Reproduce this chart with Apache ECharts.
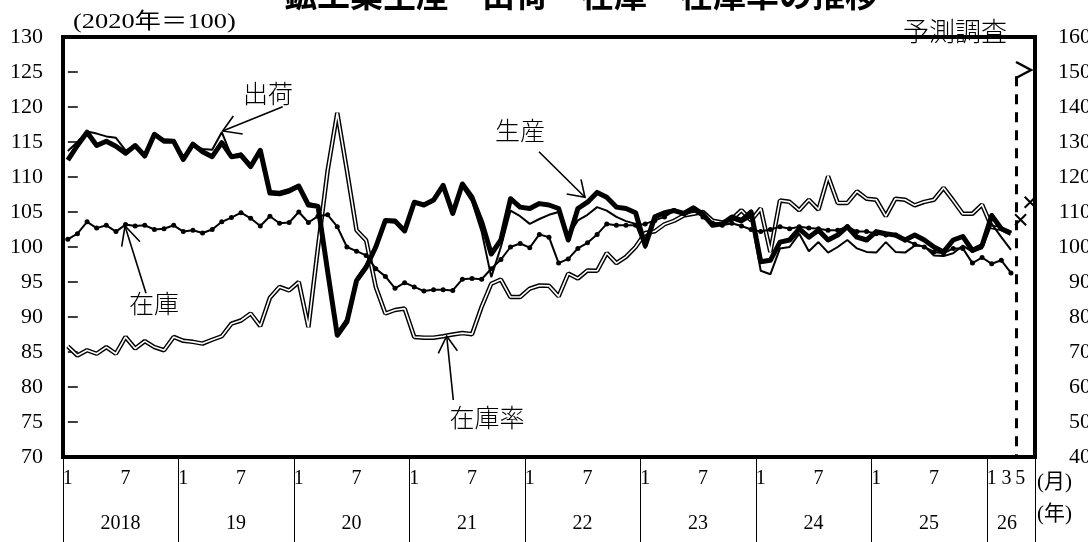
<!DOCTYPE html>
<html><head><meta charset="utf-8">
<script src="https://cdn.jsdelivr.net/npm/echarts@6/dist/echarts.min.js"></script>
<style>html,body{margin:0;padding:0;background:#fff}#c{width:1088px;height:542px}</style>
</head><body><div id="c"></div>
<script>
// ---- data ----
const yearsList = [2018, 2019, 2020, 2021, 2022, 2023, 2024, 2025, 2026];
const lastMonth2026 = 5;
const yearTickLabels = ['2018', '19', '20', '21', '22', '23', '24', '25', '26'];
const leftTicks = [70, 130, 5];
const rightTicks = [40, 160, 10];

// 生産 (production), 2018/1 - 2026/3
const production = [
  112.4,114.5,116.4,114.5,115.1,114.4,113.4,114.5,113.0,116.1,115.1,115.1,
  112.5,114.7,113.6,112.9,114.9,112.9,113.1,111.5,113.8,107.7,107.6,108.0,
  108.7,106.0,105.8,96.5,87.4,89.3,95.2,97.1,100.0,103.8,103.7,102.3,
  106.4,106.0,106.7,108.8,104.8,109.0,107.1,103.6,99.0,101.0,106.9,105.7,
  105.5,106.2,106.0,105.5,101.0,105.5,106.4,107.8,107.1,105.7,105.5,104.9,
  100.2,104.3,104.9,105.2,104.8,105.6,104.7,103.1,103.3,104.3,103.8,105.0,
  97.9,98.1,100.7,101.0,102.6,101.4,102.4,101.0,101.7,102.9,101.4,101.0,
  102.2,101.9,101.7,101.0,101.7,101.0,100.0,99.3,101.0,101.5,99.5,100.2,
  104.5,102.6,102.0
];
// 出荷 (shipments)
const shipments = [
  113.7,115.0,116.5,116.2,115.8,115.6,113.8,114.3,113.2,116.0,115.4,115.3,
  112.6,114.5,114.0,113.9,116.4,113.0,113.4,111.8,113.6,108.0,107.9,108.3,
  108.9,106.3,106.0,97.0,87.8,89.8,95.5,97.5,100.3,103.6,103.5,102.6,
  106.2,105.9,106.5,108.5,105.0,108.6,106.5,102.2,95.7,100.0,105.2,104.4,
  103.3,104.0,104.6,105.0,101.6,103.8,104.6,105.7,105.2,104.3,103.7,103.3,
  99.8,104.5,105.0,105.4,104.5,105.2,104.3,103.2,103.3,104.0,103.5,104.3,
  96.6,96.1,99.8,100.0,101.9,99.4,100.7,99.2,100.0,101.0,99.8,99.3,
  99.2,100.7,99.3,99.2,100.2,100.1,98.8,98.7,99.1,100.2,99.3,99.8,
  103.3,101.4,99.6
];
// 在庫 (inventory)
const inventory = [
  101.1,101.9,103.6,102.7,103.1,102.2,103.2,103.0,103.1,102.5,102.6,103.1,
  102.2,102.4,102.0,102.5,103.6,104.2,104.9,104.1,103.0,104.4,103.4,103.5,
  105.0,103.5,104.4,104.6,102.9,100.0,99.4,98.8,96.9,95.8,94.1,94.9,
  94.3,93.7,93.9,93.9,93.8,95.4,95.5,95.4,96.9,98.2,100.0,100.5,
  99.9,101.8,101.4,97.7,98.3,99.8,100.6,101.8,103.3,103.1,103.1,103.1,
  103.3,103.8,104.3,105.2,104.8,105.5,104.3,103.4,103.1,103.4,103.0,102.5,
  102.2,102.5,102.9,102.6,102.9,102.7,102.6,102.4,102.4,102.9,102.2,102.2,
  101.9,101.7,101.7,101.0,100.4,100.0,99.3,99.1,99.8,99.8,97.7,98.5,
  97.6,98.1,96.3
];
// 在庫率 (inventory ratio, right axis)
const inventoryRatio = [
  71.6,69.0,70.5,69.5,71.4,69.5,74.3,71.0,73.1,71.4,70.5,74.3,
  73.2,72.9,72.4,73.5,74.5,78.1,79.0,81.0,77.4,85.5,88.6,87.6,
  90.0,77.1,100.0,121.9,138.3,121.9,104.8,101.9,88.6,81.0,82.0,82.4,
  74.3,74.1,74.1,74.5,75.0,75.4,75.1,82.9,89.5,90.7,85.7,85.7,
  88.1,89.0,88.9,85.9,92.4,91.0,93.3,93.2,98.3,95.4,97.2,100.0,
  104.0,104.5,106.5,107.5,109.0,109.5,110.0,107.5,107.0,108.0,110.5,107.6,
  111.0,98.6,113.3,112.9,110.5,113.5,110.7,120.2,112.6,112.6,115.9,113.8,
  113.5,108.8,113.8,113.5,111.9,112.9,113.5,116.9,113.3,109.5,109.5,112.1,
  105.7,105.2,103.8
];
// 予測調査 (production forecast) 2026/4, 2026/5
const forecast = [103.9, 106.4];
const forecastStartIndex = 98.5; // boundary between 2026/3 and 2026/4

// ---- build categories ----
const categories = [];
yearsList.forEach(y => {
  const n = y === 2026 ? lastMonth2026 : 12;
  for (let m = 1; m <= n; m++) categories.push(y + '-' + m);
});
const N = categories.length;
const pad = (arr) => arr.concat(new Array(N - arr.length).fill(null));
const forecastData = new Array(N).fill(null);
forecast.forEach((v, k) => { forecastData[N - forecast.length + k] = v; });

const serif = '"Liberation Serif","DejaVu Serif","Noto Sans CJK JP",serif';
const jp = '"Noto Sans CJK JP","Noto Sans CJK SC",sans-serif';

const chart = echarts.init(document.getElementById('c'));

function arrow(x1, y1, x2, y2, a, b) {
  return [
    {type: 'line', shape: {x1, y1, x2, y2}, style: {stroke: '#000', lineWidth: 1.6}, z: 100},
    {type: 'polyline', shape: {points: [a, [x2, y2], b]}, style: {stroke: '#000', lineWidth: 1.6, fill: null}, z: 100}
  ];
}
function label(text, x, y, size) {
  return {type: 'text', x, y, z: 100, style: {text, fill: '#000', font: '300 ' + size + 'px ' + jp, align: 'center', verticalAlign: 'middle'}};
}
const lblFont = 20;
const rich = (pr) => ({padding: [0, pr, 0, 0], fontFamily: serif, fontSize: lblFont, color: '#000'});

const option = {
  animation: false,
  backgroundColor: '#fff',
  grid: {left: 63, right: 53, top: 37, bottom: 85, show: true, borderColor: '#000', borderWidth: 4, backgroundColor: 'transparent', containLabel: false, outerBoundsMode: 'none'},
  xAxis: [
    {
      type: 'category', data: categories, boundaryGap: true, position: 'bottom',
      axisLine: {show: false},
      axisTick: {show: true, interval: (i) => i % 12 === 0, length: 86, lineStyle: {color: '#000', width: 1}},
      axisLabel: {
        interval: (i) => i < 96 ? (i % 12 === 0 || i % 12 === 6) : (i === 96 || i === 98 || i === 100),
        formatter: (v, i) => {
          if (i >= 96) return i === 96 ? '1' : i === 98 ? '{a|3}' : '{b|5}';
          return i % 12 === 0 ? '1' : '7';
        },
        margin: 12, color: '#000', fontFamily: serif, fontSize: lblFont,
        rich: {a: rich(9), b: rich(20)}
      },
      splitLine: {show: false}
    },
    {
      type: 'category', data: categories, boundaryGap: true, position: 'bottom',
      axisLine: {show: false}, axisTick: {show: false},
      axisLabel: {
        interval: (i) => i < 96 ? i % 12 === 6 : i === 98,
        formatter: (v, i) => (i >= 96 ? '{z|' : '{y|') + yearTickLabels[Math.floor(i / 12)] + '}',
        margin: 57, color: '#000', fontFamily: serif, fontSize: lblFont,
        rich: {y: rich(10), z: rich(8)}
      }
    },
    {type: 'value', min: -0.5, max: N - 0.5, show: false}
  ],
  yAxis: [
    {
      type: 'value', min: leftTicks[0], max: leftTicks[1], interval: leftTicks[2], position: 'left',
      axisLine: {show: false}, splitLine: {show: false},
      axisTick: {show: true, inside: true, length: 10, lineStyle: {color: '#000', width: 1.5}},
      axisLabel: {color: '#000', fontFamily: serif, fontSize: 22, margin: 20}
    },
    {
      type: 'value', min: rightTicks[0], max: rightTicks[1], interval: rightTicks[2], position: 'right',
      axisLine: {show: false}, splitLine: {show: false}, axisTick: {show: false},
      axisLabel: {color: '#000', fontFamily: serif, fontSize: 22, margin: 56, align: 'right'}
    }
  ],
  series: [
    {name: '在庫率', type: 'line', yAxisIndex: 1, data: pad(inventoryRatio), symbol: 'none', lineStyle: {color: '#000', width: 4.5}, z: 2},
    {name: '在庫率w', type: 'line', yAxisIndex: 1, data: pad(inventoryRatio), symbol: 'none', lineStyle: {color: '#fff', width: 1.6}, z: 3},
    {name: '在庫', type: 'line', data: pad(inventory), symbol: 'circle', symbolSize: 5, showAllSymbol: true, itemStyle: {color: '#000'}, lineStyle: {color: '#000', width: 2}, z: 4},
    {name: '出荷', type: 'line', data: pad(shipments), symbol: 'none', lineStyle: {color: '#000', width: 2}, z: 5},
    {name: '生産', type: 'line', data: pad(production), symbol: 'none', lineStyle: {color: '#000', width: 5, join: 'round'}, z: 6},
    {name: '予測', type: 'line', data: forecastData, symbol: 'path://M0,0L10,10M10,0L0,10', symbolSize: 11, showAllSymbol: true, showSymbol: true,
      itemStyle: {color: 'rgba(0,0,0,0)', borderColor: '#000', borderWidth: 2}, lineStyle: {width: 0}, z: 7},
    {name: 'boundary', type: 'line', xAxisIndex: 2, data: [], z: 8,
      markLine: {silent: true, symbol: ['none', 'none'], label: {show: false},
        lineStyle: {color: '#000', width: 3, type: [10, 8]},
        data: [[{coord: [forecastStartIndex, 124.4]}, {coord: [forecastStartIndex, leftTicks[0]]}]]}}
  ],
  graphic: [
    {type: 'text', x: 581, y: -22, z: 100, style: {text: '鉱工業生産・出荷・在庫・在庫率の推移', fill: '#000', font: 'bold 33px ' + jp, align: 'center', verticalAlign: 'top'}},
    {type: 'text', x: 73, y: 11, scaleX: 1.2, z: 100, style: {text: '(2020年＝100)', fill: '#000', font: '22px ' + serif, align: 'left', verticalAlign: 'top'}},
    label('出荷', 268, 93, 25),
    label('生産', 520, 130, 25),
    label('在庫', 154, 303, 25),
    label('在庫率', 487, 417, 25),
    label('予測調査', 955, 31, 26),
    ...arrow(282.7, 106.7, 222.7, 131, [233.3, 116], [242.7, 134]),
    ...arrow(539, 151.7, 585, 197.3, [581, 179.3], [566.7, 194]),
    ...arrow(146, 293.3, 125, 226, [121.7, 246.7], [140, 241.7]),
    ...arrow(453.3, 400, 446.7, 336, [438.3, 353.3], [457.3, 350.7]),
    {type: 'polyline', shape: {points: [[1016, 62], [1031, 70], [1016, 78]]}, style: {stroke: '#000', lineWidth: 2.5, fill: null}, z: 100},
    {type: 'text', x: 1037, y: 482, z: 100, style: {text: '(月)', fill: '#000', font: '21px ' + serif, align: 'left', verticalAlign: 'middle'}},
    {type: 'text', x: 1037, y: 514, z: 100, style: {text: '(年)', fill: '#000', font: '21px ' + serif, align: 'left', verticalAlign: 'middle'}}
  ]
};
chart.setOption(option);
</script></body></html>
